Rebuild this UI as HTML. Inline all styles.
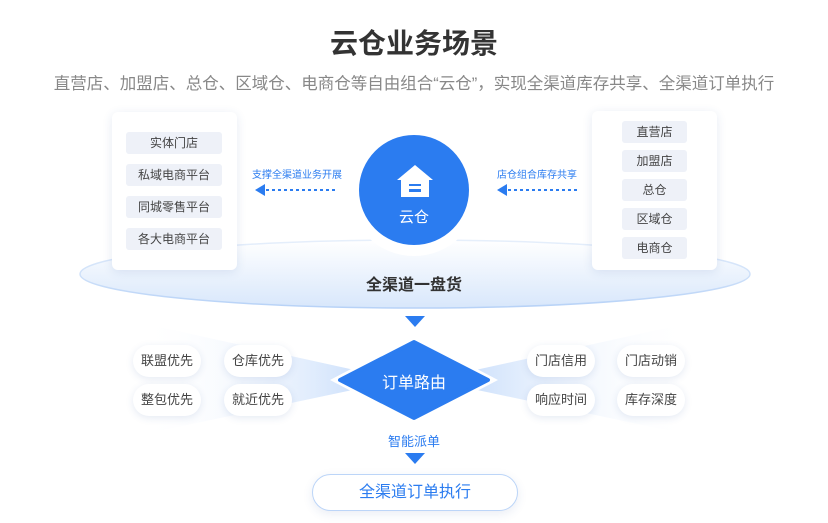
<!DOCTYPE html>
<html><head><meta charset="utf-8"><style>
*{margin:0;padding:0;box-sizing:border-box}
body{width:828px;height:523px;background:#fff;position:relative;overflow:hidden;font-family:"Liberation Sans","Noto Sans CJK SC",sans-serif}
.a{position:absolute}
.c{text-align:center}
.item{position:absolute;background:#eef1f8;border-radius:3px;font-size:12px;color:#444;text-align:center;height:22px;line-height:22px}
.pill{position:absolute;background:#fff;border-radius:16px;font-size:13px;color:#444;text-align:center;height:32px;line-height:32px;width:68px;box-shadow:0 2px 8px rgba(40,80,160,.12)}
.lab{position:absolute;font-size:10px;color:#2b7cf0;text-align:center;width:120px}
</style></head><body>
<div class="a c" style="left:0;top:24px;width:828px;font-size:28px;font-weight:bold;color:#333;line-height:40px">云仓业务场景</div>
<div class="a c" style="left:0;top:72px;width:828px;font-size:16.5px;color:#888;line-height:24px">直营店、加盟店、总仓、区域仓、电商仓等自由组合“云仓”，实现全渠道库存共享、全渠道订单执行</div>

<svg class="a" style="left:0;top:0" width="828" height="523">
<defs>
<linearGradient id="pl" x1="0" y1="0" x2="0" y2="1"><stop offset="0" stop-color="#ffffff"/><stop offset="1" stop-color="#d8e7fb"/></linearGradient>
<linearGradient id="st" x1="0" y1="0" x2="0" y2="1"><stop offset="0" stop-color="#e6effb"/><stop offset="1" stop-color="#b7d2f7"/></linearGradient>
<linearGradient id="bl" x1="1" y1="0" x2="0" y2="0"><stop offset="0" stop-color="#b9d4fa"/><stop offset="1" stop-color="#ffffff" stop-opacity="0"/></linearGradient>
<linearGradient id="br" x1="0" y1="0" x2="1" y2="0"><stop offset="0" stop-color="#b9d4fa"/><stop offset="1" stop-color="#ffffff" stop-opacity="0"/></linearGradient>
</defs>
<ellipse cx="415" cy="274" rx="335" ry="34" fill="url(#pl)" stroke="url(#st)" stroke-width="1.5"/>
<polygon points="400,380 150,325 140,435" fill="url(#bl)"/>
<polygon points="430,380 680,325 690,435" fill="url(#br)"/>
<circle cx="414" cy="190" r="66" fill="#fff"/>
<circle cx="414" cy="190" r="55" fill="#2b7cf0"/>
<polygon points="415,165 397,180 401,180 401,197 409,197 409,184 421,184 421,197 429,197 429,180 433,180" fill="#fff"/>
<rect x="409" y="186" width="12" height="3" fill="#fff"/>
<rect x="409" y="192" width="12" height="5" fill="#fff"/>
<line x1="266" y1="190" x2="335" y2="190" stroke="#2b7cf0" stroke-width="2" stroke-dasharray="3,3"/>
<polygon points="255,190 265,184 265,196" fill="#2b7cf0"/>
<line x1="508" y1="190" x2="577" y2="190" stroke="#2b7cf0" stroke-width="2" stroke-dasharray="3,3"/>
<polygon points="497,190 507,184 507,196" fill="#2b7cf0"/>
<polygon points="405,316 425,316 415,327" fill="#2b7cf0"/>
<polygon points="414,336 498,380 414,424 330,380" fill="#fff"/>
<polygon points="414,342 488,380 414,418 340,380" fill="#2b7cf0" stroke="#2b7cf0" stroke-width="4" stroke-linejoin="round"/>
<polygon points="405,453 425,453 415,464" fill="#2b7cf0"/>
</svg>

<div class="a" style="left:112px;top:112px;width:125px;height:158px;background:#fff;border-radius:6px;box-shadow:0 2px 10px rgba(40,80,160,.12)"></div>
<div class="item" style="left:126px;top:132px;width:96px">实体门店</div>
<div class="item" style="left:126px;top:164px;width:96px">私域电商平台</div>
<div class="item" style="left:126px;top:196px;width:96px">同城零售平台</div>
<div class="item" style="left:126px;top:228px;width:96px">各大电商平台</div>

<div class="a" style="left:592px;top:111px;width:125px;height:159px;background:#fff;border-radius:6px;box-shadow:0 2px 10px rgba(40,80,160,.12)"></div>
<div class="item" style="left:622px;top:121px;width:65px">直营店</div>
<div class="item" style="left:622px;top:150px;width:65px">加盟店</div>
<div class="item" style="left:622px;top:179px;width:65px">总仓</div>
<div class="item" style="left:622px;top:208px;width:65px">区域仓</div>
<div class="item" style="left:622px;top:237px;width:65px">电商仓</div>

<div class="lab" style="left:237px;top:166px">支撑全渠道业务开展</div>
<div class="lab" style="left:477px;top:166px">店仓组合库存共享</div>
<div class="a c" style="left:364px;top:206px;width:100px;color:#fff;font-size:15px">云仓</div>
<div class="a c" style="left:314px;top:271px;width:200px;color:#333;font-size:16px;font-weight:bold">全渠道一盘货</div>
<div class="a c" style="left:364px;top:369px;width:100px;color:#fff;font-size:16px">订单路由</div>

<div class="pill" style="left:133px;top:345px">联盟优先</div>
<div class="pill" style="left:224px;top:345px">仓库优先</div>
<div class="pill" style="left:133px;top:384px">整包优先</div>
<div class="pill" style="left:224px;top:384px">就近优先</div>
<div class="pill" style="left:527px;top:345px">门店信用</div>
<div class="pill" style="left:617px;top:345px">门店动销</div>
<div class="pill" style="left:527px;top:384px">响应时间</div>
<div class="pill" style="left:617px;top:384px">库存深度</div>

<div class="a c" style="left:364px;top:431px;width:100px;color:#2b7cf0;font-size:13px">智能派单</div>
<div class="a c" style="left:312px;top:474px;width:206px;height:37px;line-height:35px;border:1px solid #bcd5f8;border-radius:19px;background:#fff;color:#2b7cf0;font-size:16px;box-shadow:0 3px 10px rgba(40,80,160,.1)">全渠道订单执行</div>
</body></html>
